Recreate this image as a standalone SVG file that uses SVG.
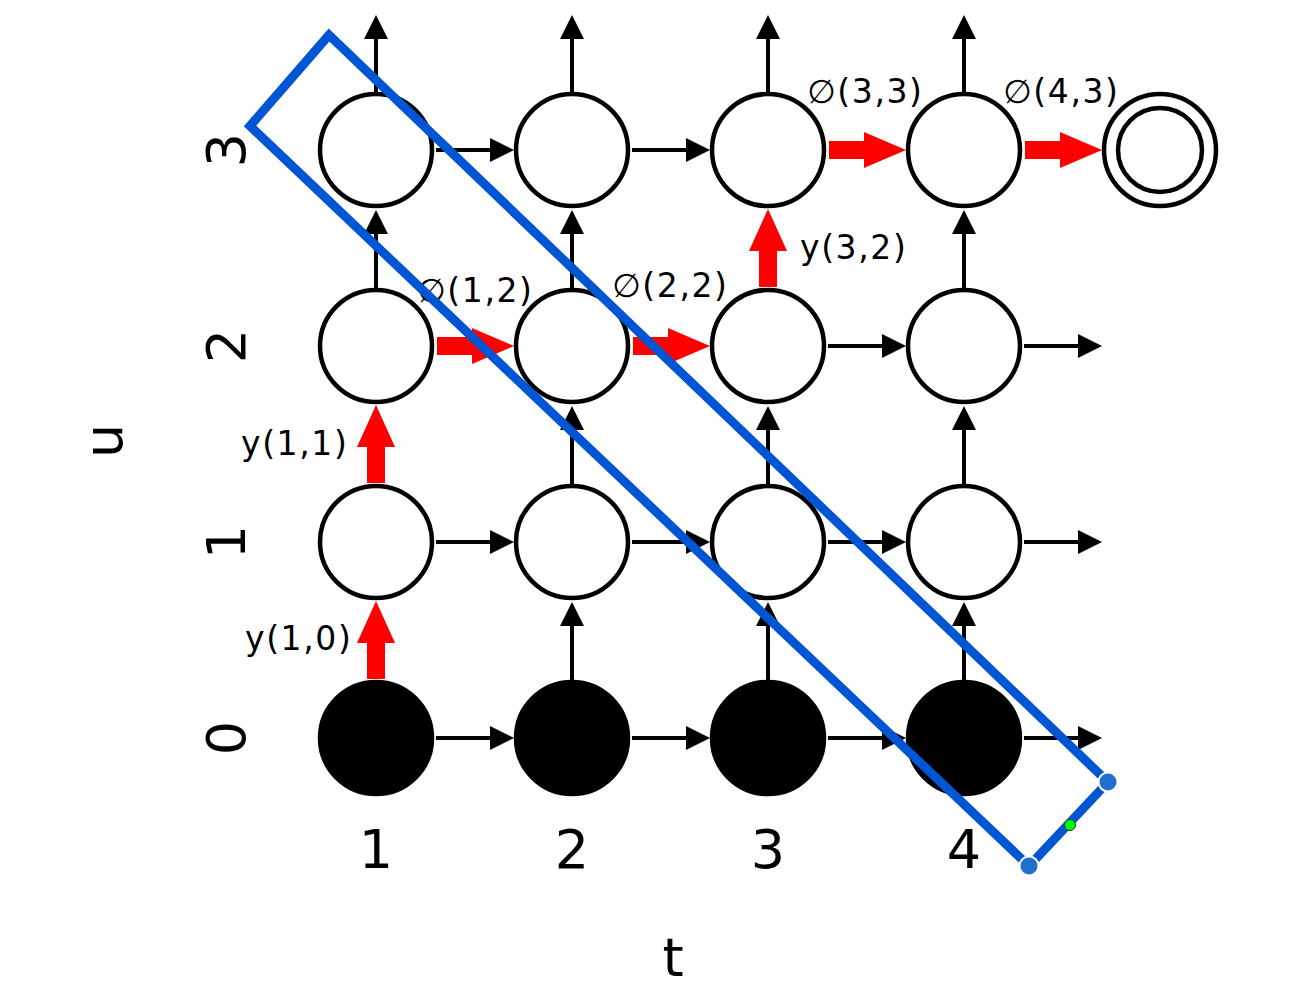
<svg xmlns="http://www.w3.org/2000/svg" width="1292" height="1002" viewBox="0 0 1292 1002">
<style>
.n{fill:#fff;stroke:#000;stroke-width:4.5}
.b{fill:#000;stroke:#000;stroke-width:4.5}
.e{stroke:#000;stroke-width:4;fill:none;marker-end:url(#ah)}
.r{fill:#ff0000;stroke:none}
.lbl{font-family:"DejaVu Sans",sans-serif;font-size:33px;letter-spacing:1.6px;fill:#000}
.tick{font-family:"DejaVu Sans",sans-serif;font-size:54px;fill:#000;text-anchor:middle}
</style>
<defs>
<marker id="ah" markerUnits="userSpaceOnUse" viewBox="0 0 24 24" markerWidth="24" markerHeight="24" refX="4" refY="12" orient="auto">
<path d="M0,0 L24,12 L0,24 z" fill="#000"/>
</marker>
</defs>
<rect width="1292" height="1002" fill="#fff"/>
<g id="connectors">
<path class="e" d="M436,738 H494"/><path class="e" d="M632,738 H690"/><path class="e" d="M828,738 H886"/><path class="e" d="M1024,738 H1082"/>
<path class="e" d="M436,542 H494"/><path class="e" d="M632,542 H690"/><path class="e" d="M828,542 H886"/><path class="e" d="M1024,542 H1082"/>
<path class="e" d="M828,346 H886"/><path class="e" d="M1024,346 H1082"/>
<path class="e" d="M436,150 H494"/><path class="e" d="M632,150 H690"/>
<path class="e" d="M376,288 V230"/><path class="e" d="M376,92 V35"/>
<path class="e" d="M572,680 V622"/><path class="e" d="M572,484 V426"/><path class="e" d="M572,288 V230"/><path class="e" d="M572,92 V35"/>
<path class="e" d="M768,680 V622"/><path class="e" d="M768,484 V426"/><path class="e" d="M768,92 V35"/>
<path class="e" d="M964,680 V622"/><path class="e" d="M964,484 V426"/><path class="e" d="M964,288 V230"/><path class="e" d="M964,92 V35"/>
<polygon class="r" points="367,679 367,643 357,643 376,601 395,643 385,643 385,679"/>
<polygon class="r" points="367,483 367,447 357,447 376,405 395,447 385,447 385,483"/>
<polygon class="r" points="759,287 759,251 749,251 768,209 787,251 777,251 777,287"/>
<polygon class="r" points="437,337 472,337 472,328 514,346 472,364 472,355 437,355"/>
<polygon class="r" points="633,337 668,337 668,328 710,346 668,364 668,355 633,355"/>
<polygon class="r" points="829,141 864,141 864,132 906,150 864,168 864,159 829,159"/>
<polygon class="r" points="1025,141 1060,141 1060,132 1102,150 1060,168 1060,159 1025,159"/>
</g>
<g id="node-1-0"><circle class="b" cx="376" cy="738" r="56"/></g>
<g id="node-2-0"><circle class="b" cx="572" cy="738" r="56"/></g>
<g id="node-3-0"><circle class="b" cx="768" cy="738" r="56"/></g>
<g id="node-4-0"><circle class="b" cx="964" cy="738" r="56"/></g>
<g id="node-1-1"><circle class="n" cx="376" cy="542" r="56"/></g>
<g id="node-2-1"><circle class="n" cx="572" cy="542" r="56"/></g>
<g id="node-3-1"><circle class="n" cx="768" cy="542" r="56"/></g>
<g id="node-4-1"><circle class="n" cx="964" cy="542" r="56"/></g>
<g id="node-1-2"><circle class="n" cx="376" cy="346" r="56"/></g>
<g id="node-2-2"><circle class="n" cx="572" cy="346" r="56"/></g>
<g id="node-3-2"><circle class="n" cx="768" cy="346" r="56"/></g>
<g id="node-4-2"><circle class="n" cx="964" cy="346" r="56"/></g>
<g id="node-1-3"><circle class="n" cx="376" cy="150" r="56"/></g>
<g id="node-2-3"><circle class="n" cx="572" cy="150" r="56"/></g>
<g id="node-3-3"><circle class="n" cx="768" cy="150" r="56"/></g>
<g id="node-4-3"><circle class="n" cx="964" cy="150" r="56"/></g>
<g id="node-final"><circle class="n" cx="1160" cy="150" r="56"/><circle class="n" cx="1160" cy="150" r="42"/></g>
<g id="labels">
<text class="lbl" x="245" y="650">y(1,0)</text>
<text class="lbl" x="241" y="455">y(1,1)</text>
<text class="lbl" x="800" y="259">y(3,2)</text>
<text class="lbl" x="417" y="302">∅(1,2)</text>
<text class="lbl" x="612" y="297">∅(2,2)</text>
<text class="lbl" x="807" y="103">∅(3,3)</text>
<text class="lbl" x="1003" y="103">∅(4,3)</text>
</g>
<g id="axes">
<text class="tick" x="376" y="868">1</text>
<text class="tick" x="572" y="868">2</text>
<text class="tick" x="768" y="868">3</text>
<text class="tick" x="964" y="868">4</text>
<text class="tick" transform="translate(245,738) rotate(-90)">0</text>
<text class="tick" transform="translate(245,542) rotate(-90)">1</text>
<text class="tick" transform="translate(245,346) rotate(-90)">2</text>
<text class="tick" transform="translate(245,150) rotate(-90)">3</text>
<text class="tick" transform="translate(122,441) rotate(-90)">u</text>
<text class="tick" x="673" y="976">t</text>
</g>
<g id="selection">
<polygon points="329,35 250,126 1029,866 1108,782" fill="none" stroke="#0055d4" stroke-width="9" stroke-linejoin="miter"/>
<circle cx="1108" cy="782" r="9.5" fill="#1f6fcf" stroke="#fff" stroke-width="2"/>
<circle cx="1029" cy="866" r="9.5" fill="#1f6fcf" stroke="#fff" stroke-width="2"/>
<circle cx="1070" cy="825" r="5.5" fill="#00ff00" stroke="#114411" stroke-width="1"/>
</g>
</svg>
